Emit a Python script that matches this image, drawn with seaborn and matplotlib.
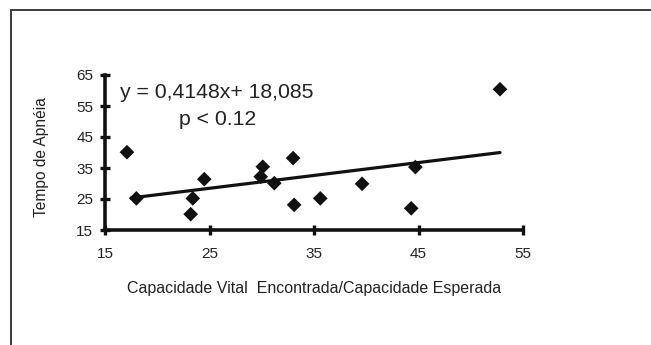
import matplotlib
matplotlib.use("Agg")
import matplotlib.pyplot as plt
from matplotlib.lines import Line2D
import seaborn as sns
import numpy as np
import pandas as pd

# Data
cap_vital = [17.1, 18.0, 23.2, 23.4, 24.5, 29.9, 30.1, 31.2, 33.0, 33.1, 35.6, 39.6, 44.3, 44.7, 52.8]
tempo_apneia = [40.1, 25.2, 20.1, 25.2, 31.4, 32.2, 35.4, 30.1, 38.2, 23.1, 25.2, 29.9, 22.0, 35.3, 60.4]
slope = 0.4148
intercept = 18.085
x_ticks = [15, 25, 35, 45, 55]
y_ticks = [15, 25, 35, 45, 55, 65]
equation_label = "y = 0,4148x+ 18,085"
p_label = "p < 0.12"
x_label = "Capacidade Vital  Encontrada/Capacidade Esperada"
y_label = "Tempo de Apnéia"

sns.set_style("white")
plt.rcParams["font.family"] = ["Liberation Sans", "DejaVu Sans"]

df = pd.DataFrame({"x": cap_vital, "y": tempo_apneia})

fig = plt.figure(figsize=(6.51, 3.45), dpi=100)
ax = fig.add_axes([105 / 651, 1 - 230 / 345, 418 / 651, 155 / 345])

ink = "#111111"
txt = "#222222"
sns.scatterplot(data=df, x="x", y="y", marker="D", s=56, color=ink,
                edgecolor="none", ax=ax, zorder=3, clip_on=False)

xs = np.array([min(cap_vital) + 0.4, max(cap_vital)])
ax.plot(xs, slope * xs + intercept, color=ink, lw=2.3, zorder=2)

ax.set_xlim(15, 55)
ax.set_ylim(15, 65)
ax.set_xticks(x_ticks)
ax.set_yticks(y_ticks)
ax.set_xticklabels([str(v) for v in x_ticks])
ax.set_yticklabels([str(v) for v in y_ticks])

for side in ["top", "right"]:
    ax.spines[side].set_visible(False)
for side in ["left", "bottom"]:
    ax.spines[side].set_linewidth(2.6)
    ax.spines[side].set_color(ink)
ax.tick_params(axis="both", direction="inout", length=7, width=2.4,
               color=ink, labelsize=11, labelcolor=txt,
               bottom=True, left=True)
ax.tick_params(axis="x", pad=9)
ax.tick_params(axis="y", pad=5)

ax.set_xlabel(x_label, fontsize=11.5, color=txt, labelpad=14)
ax.set_ylabel(y_label, fontsize=11.2, color=txt)
ax.yaxis.set_label_coords(-0.135, 0.47)

ax.text(16.4, 59.5, equation_label, fontsize=15.3, color=txt, va="center", ha="left")
ax.text(22.1, 50.7, p_label, fontsize=15.3, color=txt, va="center", ha="left")

# Outer frame (top and left edges visible)
fig.add_artist(Line2D([11 / 651, 11 / 651], [0, 1 - 10 / 345], transform=fig.transFigure,
                      color="#3a3a3a", lw=1.4))
fig.add_artist(Line2D([11 / 651, 1], [1 - 10 / 345, 1 - 10 / 345], transform=fig.transFigure,
                      color="#3a3a3a", lw=1.4))

fig.savefig("out.png", dpi=100, facecolor="white")
